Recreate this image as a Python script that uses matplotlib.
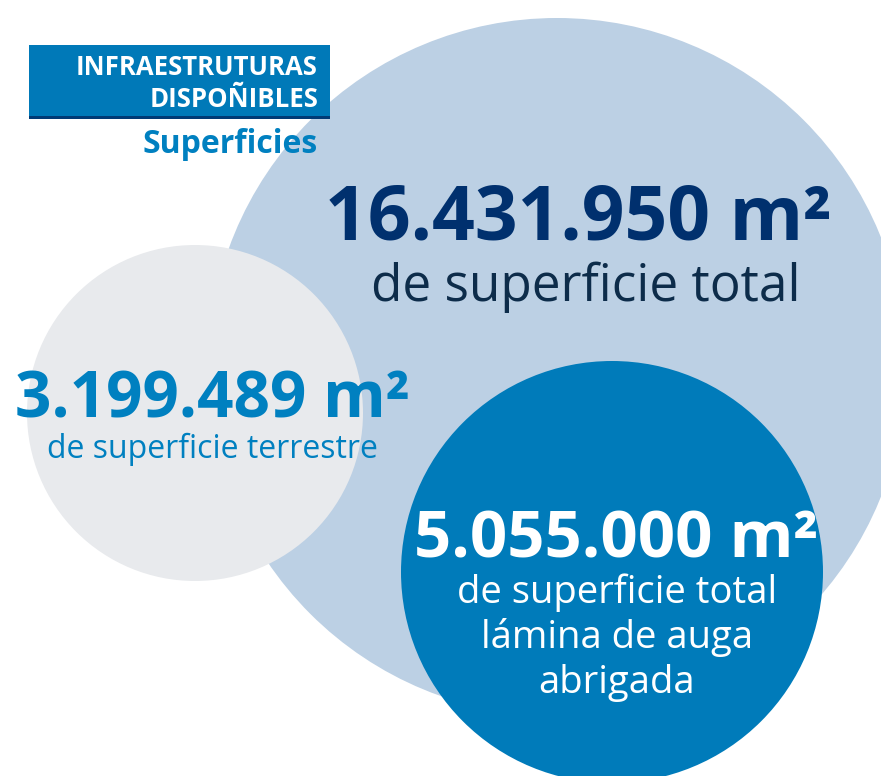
import matplotlib
matplotlib.use('Agg')
import matplotlib.pyplot as plt
from matplotlib.patches import Circle, Rectangle

plt.rcParams['font.family'] = ['Open Sans', 'DejaVu Sans']

# data
header_lines = ['INFRAESTRUTURAS', 'DISPOÑIBLES']
subtitle = 'Superficies'
values = ['16.431.950', '3.199.489', '5.055.000']
unit = 'm²'
descriptions = [['de superficie total'],
                ['de superficie terrestre'],
                ['de superficie total', 'lámina de auga', 'abrigada']]

# layout (pixel coords, y down)
circles = [
    # cx, cy, r, face
    (557, 367, 349, '#bcd0e4'),
    (195, 413, 168, '#e8eaed'),
    (612, 572, 211, '#007bba'),
]
value_style = [
    dict(x=578, y=240, size=54, color='#00306e'),
    dict(x=212, y=418, size=46, color='#0080c0'),
    dict(x=616, y=557, size=47, color='white'),
]
desc_style = [
    dict(x=586, y=301, size=37, color='#0d2c4a', step=0),
    dict(x=212, y=458, size=23, color='#0080c0', step=0),
    dict(x=617, y=603, size=27.5, color='white', step=45),
]

fig = plt.figure(figsize=(8.81, 7.76), dpi=100)
ax = fig.add_axes([0, 0, 1, 1])
ax.set_xlim(0, 881)
ax.set_ylim(776, 0)
ax.set_aspect('equal')
ax.axis('off')

for cx, cy, r, col in circles:
    ax.add_patch(Circle((cx, cy), r, facecolor=col, edgecolor='none'))

# header box
ax.add_patch(Rectangle((29, 45), 301, 71, facecolor='#0079b8', edgecolor='none'))
ax.add_patch(Rectangle((29, 116), 301, 3, facecolor='#003a75', edgecolor='none'))
ax.text(318, 75, header_lines[0], ha='right', va='baseline', fontsize=18.5,
        fontweight='bold', color='white')
ax.text(318, 107, header_lines[1], ha='right', va='baseline', fontsize=18.5,
        fontweight='bold', color='white')
ax.text(318, 153, subtitle, ha='right', va='baseline', fontsize=23,
        fontweight='bold', color='#0080c0')

for val, vs in zip(values, value_style):
    ax.text(vs['x'], vs['y'], val + ' ' + unit, ha='center', va='baseline',
            fontsize=vs['size'], fontweight='bold', color=vs['color'])

for lines, ds in zip(descriptions, desc_style):
    for i, line in enumerate(lines):
        ax.text(ds['x'], ds['y'] + i * ds['step'], line, ha='center',
                va='baseline', fontsize=ds['size'], color=ds['color'])

fig.savefig('out.png', dpi=100)
